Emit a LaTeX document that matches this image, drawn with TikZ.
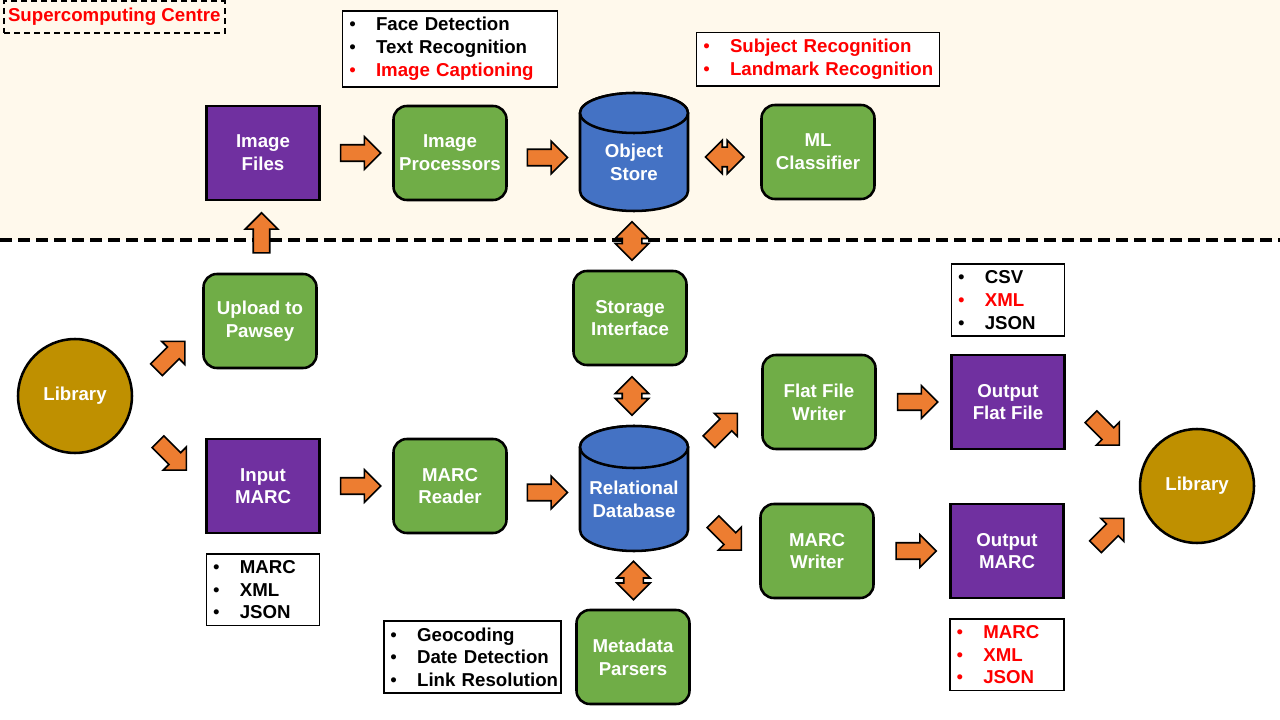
\documentclass[tikz,border=0pt]{standalone}
\usepackage{fontspec}
\setmainfont{Liberation Sans}
\usepackage{tikz}
\usetikzlibrary{calc}
\usetikzlibrary{positioning}
\usetikzlibrary{shapes.arrows}

\definecolor{hpcbg}{HTML}{FFF9EC}
\definecolor{boxgreen}{HTML}{70AD47}
\definecolor{boxpurple}{HTML}{7030A0}
\definecolor{dbblue}{HTML}{4472C4}
\definecolor{libgold}{HTML}{BF9000}
\definecolor{flow}{HTML}{ED7D31}
\definecolor{hot}{HTML}{FF0000}

% one line of a bullet list
\newcommand{\bitem}[2][black]{\mbox{\textcolor{#1}{\makebox[20pt][l]{\mdseries\textbullet}#2}}}

\tikzset{
  base/.style={draw=black, line width=1.9pt, text=white, align=center,
    font=\bfseries\fontsize{14}{17}\selectfont},
  proc/.style={base, fill=boxgreen, rounded corners=10pt, minimum width=84.75pt, minimum height=70.5pt},
  data/.style={base, fill=boxpurple, minimum width=84.75pt, minimum height=70.5pt},
  dbline/.style={draw=black, line width=1.9pt, fill=dbblue},
  dbtext/.style={base, draw=none, minimum width=81pt, inner sep=0pt},
  lib/.style={base, fill=libgold, circle, minimum size=85.5pt},
  listbox/.style={draw=black, line width=1.2pt, fill=white, align=left, inner xsep=5pt, inner ysep=5pt,
    font=\bfseries\fontsize{14}{17}\selectfont},
  fwd/.style={draw=black, line width=1.2pt, fill=flow, single arrow, single arrow head extend=6pt,
    inner xsep=0pt, inner ysep=5.6pt, minimum height=30pt},
  both/.style={draw=black, line width=1.2pt, fill=flow, double arrow, double arrow head extend=5.25pt,
    inner xsep=0pt, inner ysep=6.75pt, minimum height=29pt}
}

\begin{document}
\begin{tikzpicture}[x=0.75pt, y=-0.75pt]
\useasboundingbox (0,0) rectangle (1280,720);
\fill[white] (0,0) rectangle (1280,720);
\fill[hpcbg] (0,0) rectangle (1280,240);
\draw[line width=3pt, dash pattern=on 9pt off 4.5pt] (0,240) -- (1280,240);

\node[draw=black, line width=1.5pt, dash pattern=on 4.5pt off 3pt, text=hot, anchor=north west,
  font=\bfseries\fontsize{14}{17}\selectfont, inner xsep=3pt, minimum height=24pt] (hpc) at (3,0) {Supercomputing Centre};

% supercomputing side
\node[data] (imgfiles) at (263,153) {Image\\Files};
\node[proc] (imgproc) at (450,153) {Image\\Processors};
\draw[dbline] (580,113) -- (580,191) arc[start angle=180, end angle=0, x radius=54, y radius=20]
  -- (688,113) arc[start angle=0, end angle=-180, x radius=54, y radius=20] -- cycle;
\draw[dbline] (634,113) ellipse [x radius=54, y radius=20];
\node[dbtext, minimum height=73.5pt] (objstore) at (634,162) {Object\\Store};
\node[proc] (mlclass) at (818,152) {ML\\Classifier};

\node[listbox, text width=151pt, above=12.75pt of imgproc] (proclist)
  {\bitem{Face Detection}\\\bitem{Text Recognition}\\\bitem[hot]{Image Captioning}};
\node[listbox, text width=172pt, above=12.75pt of mlclass] (mllist)
  {\bitem[hot]{Subject Recognition}\\\bitem[hot]{Landmark Recognition}};

% library side
\node[lib] (libin) at (75,396) {Library};
\node[proc] (upload) at (260,321) {Upload to\\Pawsey};
\node[data] (inmarc) at (263,486) {Input\\MARC};
\node[proc] (reader) at (450,486) {MARC\\Reader};
\node[proc] (storage) at (630,318) {Storage\\Interface};
\draw[dbline] (580,447) -- (580,530) arc[start angle=180, end angle=0, x radius=54, y radius=21]
  -- (688,447) arc[start angle=0, end angle=-180, x radius=54, y radius=21] -- cycle;
\draw[dbline] (634,447) ellipse [x radius=54, y radius=21];
\node[dbtext, minimum height=78pt] (reldb) at (634,499) {Relational\\Database};
\node[proc] (parsers) at (633,657) {Metadata\\Parsers};
\node[proc] (flatwriter) at (819,402) {Flat File\\Writer};
\node[proc] (marcwriter) at (817,551) {MARC\\Writer};
\node[data] (outflat) at (1008,402) {Output\\Flat File};
\node[data] (outmarc) at (1007,551) {Output\\MARC};
\node[lib] (libout) at (1197,486) {Library};

\node[listbox, text width=74.75pt, below=14pt of inmarc] (inlist)
  {\bitem{MARC}\\\bitem{XML}\\\bitem{JSON}};
\node[listbox, text width=123pt, left=10pt of parsers] (parselist)
  {\bitem{Geocoding}\\\bitem{Date Detection}\\\bitem{Link Resolution}};
\node[listbox, text width=74.75pt, above=12.75pt of outflat] (flatlist)
  {\bitem{CSV}\\\bitem[hot]{XML}\\\bitem{JSON}};
\node[listbox, text width=75.5pt, below=14pt of outmarc] (outlist)
  {\bitem[hot]{MARC}\\\bitem[hot]{XML}\\\bitem[hot]{JSON}};

% block arrows
\node[fwd] (a1) at ($(imgfiles.east)!0.5!(imgproc.west)$) {};
\node[fwd] (a2) at ($(imgproc.east)!0.5!(objstore.west)$) {};
\node[both] (a3) at ($(objstore.east)!0.5!(mlclass.west)$) {};
\node[fwd, rotate=90] (a4) at ($(upload.north)!0.5!(imgfiles.south)$) {};
\node[both, rotate=90] (a5) at ($(objstore.south)!0.5!(storage.north)$) {};
\node[both, rotate=90] (a6) at ($(storage.south)!0.5!(reldb.north)+(0,-10)$) {};
\node[both, rotate=90] (a7) at ($(reldb.south)!0.5!(parsers.north)$) {};
\node[fwd, rotate=45] (a8) at ($(libin.east)!0.5!(upload.west)$) {};
\node[fwd, rotate=-45] (a9) at ($(libin.east)!0.5!(inmarc.west)+(0,12)$) {};
\node[fwd] (a10) at ($(inmarc.east)!0.5!(reader.west)$) {};
\node[fwd] (a11) at ($(reader.east)!0.5!(reldb.west)$) {};
\node[fwd, rotate=45] (a12) at ($(reldb.east)!0.5!(flatwriter.west)+(-5,-20)$) {};
\node[fwd, rotate=-45] (a13) at ($(reldb.east)!0.5!(marcwriter.west)+(0,8)$) {};
\node[fwd] (a14) at ($(flatwriter.east)!0.5!(outflat.west)$) {};
\node[fwd] (a15) at ($(marcwriter.east)!0.5!(outmarc.west)$) {};
\node[fwd, rotate=-45] (a16) at ($(outflat.east)!0.5!(libout.west)+(0,-16)$) {};
\node[fwd, rotate=45] (a17) at ($(outmarc.east)!0.5!(libout.west)+(5,17)$) {};
\end{tikzpicture}
\end{document}
